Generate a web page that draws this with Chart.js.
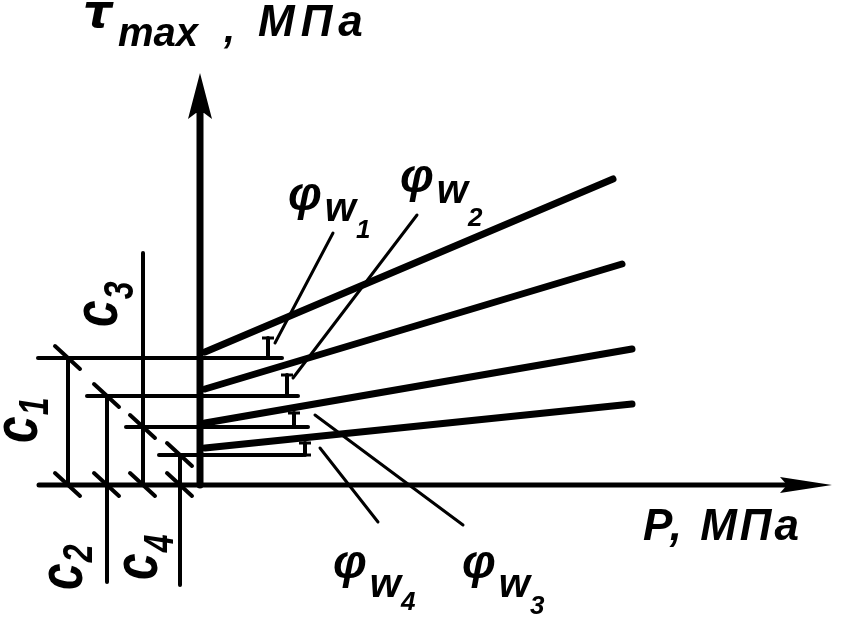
<!DOCTYPE html>
<html>
<head>
<meta charset="utf-8">
<script src="https://cdn.jsdelivr.net/npm/chart.js@4.4.1/dist/chart.umd.min.js"></script>
<style>
body{margin:0;background:#fff;}
#wrap{width:842px;height:619px;position:relative;}
</style>
</head>
<body>
<div id="wrap"><canvas id="shearChart"></canvas></div>
<script>
// values, origin where the two axes cross (arbitrary units)
const aLineNames=["1","2","3","4"];
const aLineStartP=[0.05,0.05,0.05,0.05];
const aLineStartTau=[1.33,0.96,0.62,0.37];
const aLineEndP=[4.13,4.22,4.32,4.32];
const aLineEndTau=[3.06,2.21,1.36,0.81];

// cohesion c1..c4 and their dimension lines
const aCohesionNames=["1","2","3","4"];
const aCohesion=[1.27,0.89,0.58,0.30];
const aDimP=[-1.32,-0.93,-0.57,-0.20];
const aDimTop=[1.27,0.89,2.32,0.30];
const aDimBottom=[0,-0.97,0,-1.0];
const aExtLeftP=[-1.62,-1.13,-0.74,-0.41];
const aExtRightP=[0.82,0.98,1.08,1.03];

// friction angle marks and their leader lines
const aAngleP=[0.68,0.87,0.94,1.05];
const aAngleTop=[1.47,1.10,0.72,0.42];
const aLeaderFromP=[1.33,2.17,2.63,1.78];
const aLeaderFromTau=[2.52,2.70,-0.40,-0.37];
const aLeaderToP=[0.75,0.93,1.15,1.20];
const aLeaderToTau=[1.42,1.07,0.70,0.37];

// axes: x from / to (arrow tip), y from / to
const aAxisP=[-1.61,6.32];
const aAxisTau=[0,4.12];

const ink="#000";

function segment(x1,y1,x2,y2,width,extra){
    return Object.assign({
        data:[{x:x1,y:y1},{x:x2,y:y2}],
        borderColor:ink,
        backgroundColor:ink,
        borderWidth:width,
        pointRadius:0,
        showLine:true,
        fill:false,
        borderCapStyle:"round"
    },extra||{});
}

let aDatasets=[];
aDatasets.push(segment(aAxisP[0],0,aAxisP[1]-0.3,0,5));
aDatasets.push(segment(0,0,0,aAxisTau[1]-0.35,7));

aCohesion.forEach((c,i)=>{
    aDatasets.push(segment(aExtLeftP[i],c,aExtRightP[i],c,4));
    aDatasets.push(segment(aDimP[i],aDimBottom[i],aDimP[i],aDimTop[i],4));
    [c,0].forEach(t=>{
        aDatasets.push(segment(aDimP[i]-0.13,t+0.12,aDimP[i]+0.12,t-0.11,4));
    });
});

aLineNames.forEach((n,i)=>{
    aDatasets.push(segment(aLineStartP[i],aLineStartTau[i],aLineEndP[i],aLineEndTau[i],7));
    aDatasets.push(segment(aAngleP[i],aCohesion[i],aAngleP[i],aAngleTop[i],4,{pointRadius:6,pointStyle:"line",pointBorderWidth:3}));
    aDatasets.push(segment(aLeaderFromP[i],aLeaderFromTau[i],aLeaderToP[i],aLeaderToTau[i],3));
});

function font(size,family){
    return "italic bold "+size+"px '"+(family||"Liberation Sans")+"'";
}

const sketchText={
    id:"sketchText",
    afterDraw(chart){
        const ctx=chart.ctx;
        const px=v=>chart.scales.x.getPixelForValue(v);
        const py=v=>chart.scales.y.getPixelForValue(v);
        ctx.save();
        ctx.fillStyle=ink;

        // arrow heads
        let tx=px(0), ty=py(aAxisTau[1]);
        ctx.beginPath();
        ctx.moveTo(tx,ty);
        ctx.lineTo(tx+12,ty+46);
        ctx.lineTo(tx+4,ty+40);
        ctx.lineTo(tx-4,ty+40);
        ctx.lineTo(tx-12,ty+46);
        ctx.closePath();
        ctx.fill();
        tx=px(aAxisP[1]); ty=py(0);
        ctx.beginPath();
        ctx.moveTo(tx,ty);
        ctx.lineTo(tx-52,ty-8);
        ctx.lineTo(tx-45,ty);
        ctx.lineTo(tx-52,ty+8);
        ctx.closePath();
        ctx.fill();

        ctx.textBaseline="alphabetic";
        // axis titles
        ctx.font=font(46,"DejaVu Sans");
        ctx.fillText("τ",px(-1.17),py(4.58));
        ctx.font=font(40);
        ctx.fillText("max",px(-0.82),py(4.39));
        ctx.fillText(",",px(0.24),py(4.43));
        ctx.font=font(44);
        ctx.letterSpacing="6px";
        ctx.fillText("МПа",px(0.58),py(4.49));
        ctx.letterSpacing="3px";
        ctx.fillText("P, МПа",px(4.43),py(-0.55));
        ctx.letterSpacing="0px";

        // friction angle labels
        const aPhiAt=[[0.88,2.75,11,28],[2.00,2.93,11,34],[2.62,-0.93,19,36],[1.33,-0.93,19,32]];
        aPhiAt.forEach((a,i)=>{
            let x=px(a[0]), y=py(a[1]);
            ctx.font=font(48);
            ctx.fillText("φ",x,y);
            x+=ctx.measureText("φ").width+3;
            ctx.font=font(40);
            ctx.fillText("w",x,y+a[2]);
            x+=ctx.measureText("w").width;
            ctx.font=font(26);
            ctx.fillText(aLineNames[i],x,y+a[3]);
        });

        // cohesion labels, written upward
        const aCAt=[[-1.63,0.42,11],[-1.18,-1.05,10],[-0.83,1.58,16],[-0.43,-0.95,16]];
        aCAt.forEach((a,i)=>{
            ctx.save();
            ctx.translate(px(a[0]),py(a[1]));
            ctx.rotate(-Math.PI/2);
            ctx.scale(1,1.3);
            ctx.font=font(48);
            ctx.fillText("c",0,0);
            const w=ctx.measureText("c").width;
            ctx.font=font(32);
            ctx.fillText(aCohesionNames[i],w+1,a[2]/1.3);
            ctx.restore();
        });
        ctx.restore();
    }
};

new Chart(document.getElementById("shearChart").getContext("2d"),{
    type:"scatter",
    data:{datasets:aDatasets},
    options:{
        responsive:true,
        maintainAspectRatio:false,
        animation:false,
        events:[],
        layout:{padding:0,autoPadding:false},
        plugins:{legend:{display:false},tooltip:{enabled:false}},
        scales:{
            x:{type:"linear",min:-2.0,max:6.42,display:false},
            y:{type:"linear",min:-1.34,max:4.85,display:false}
        }
    },
    plugins:[sketchText]
});
</script>
</body>
</html>
